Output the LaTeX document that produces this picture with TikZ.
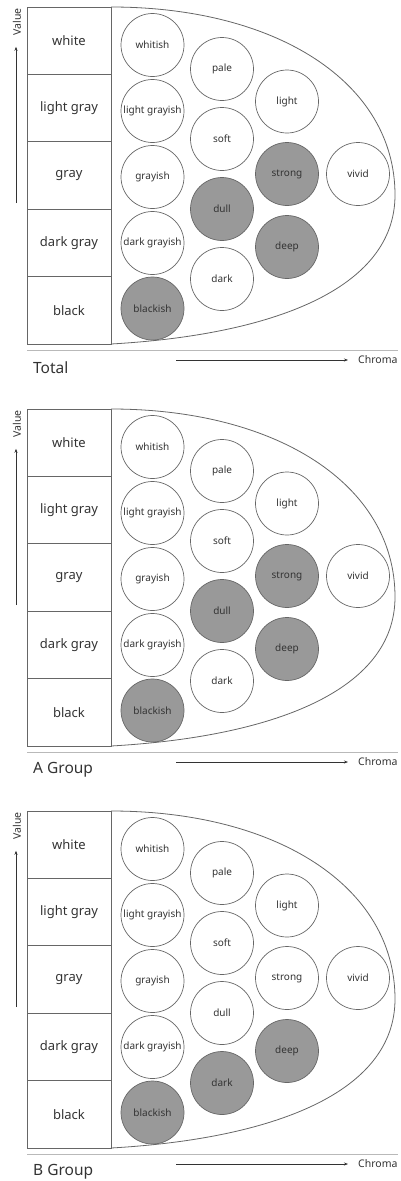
\documentclass[tikz,border=0pt]{standalone}
\usepackage{fontspec}
\setmainfont{Noto Sans}
\usetikzlibrary{arrows.meta, positioning}
\definecolor{shade}{HTML}{999999}
\definecolor{ink}{HTML}{333333}
\definecolor{edge}{HTML}{666666}

\begin{document}
\begin{tikzpicture}[
    x=1pt, y=-1pt,
    font=\fontsize{13}{15}\selectfont,
    text=ink,
    % --- Estilos ---
    level/.style = {draw=edge, line width=0.8pt, minimum width=84pt, minimum height=67.4pt, inner sep=0pt, outer sep=0pt},
    chip/.style = {circle, draw=edge, line width=0.7pt, fill=#1, minimum size=63pt, inner sep=0pt, font=\fontsize{10}{12}\selectfont},
    chip/.default = white,
    hull/.style = {draw=edge, line width=0.8pt},
    rule/.style = {draw=gray!55, line width=1.6pt},
    axis/.style = {inner sep=0pt, font=\fontsize{10.5}{12}\selectfont},
    title/.style = {inner sep=0pt, anchor=west, font=\fontsize{15.5}{18}\selectfont},
    arrow/.style = {line width=0.6pt, draw=ink, -{Stealth[length=4pt, width=3pt]}}
  ]

  \useasboundingbox (0,0) rectangle (401,1181);

  \foreach \p/\dy/\title/\dullfill/\darkfill/\strongfill in {t/0/Total/shade/white/shade, a/402/A Group/shade/white/shade, b/804/B Group/white/shade/white} {
    \begin{scope}[shift={(0,\dy)}]
      % --- Value levels ---
      \node [level] (\p-white) at (69,40.7) {white};
      \node [level, below=0pt of \p-white] (\p-lgray) {light gray};
      \node [level, below=0pt of \p-lgray] (\p-gray) {gray};
      \node [level, below=0pt of \p-gray] (\p-dgray) {dark gray};
      \node [level, below=0pt of \p-dgray] (\p-black) {black};

      % --- Tone envelope ---
      \coordinate (\p-tip) at (395,195);
      \draw [hull] (\p-white.north east) .. controls (276,7) and (395,82) .. (\p-tip)
        .. controls (395,290) and (270,335) .. (\p-black.south east);

      % --- Tones ---
      \node [chip] (\p-whitish) at (152.5,45) {whitish};
      \node [chip] (\p-lgrayish) at (152.5,111) {light grayish};
      \node [chip] (\p-grayish) at (152.5,177) {grayish};
      \node [chip] (\p-dgrayish) at (152.5,243) {dark grayish};
      \node [chip=shade] (\p-blackish) at (152.5,308.5) {blackish};
      \node [chip] (\p-pale) at (222,69) {pale};
      \node [chip] (\p-soft) at (222,139) {soft};
      \node [chip=\dullfill] (\p-dull) at (222,209) {dull};
      \node [chip=\darkfill] (\p-dark) at (222,279) {dark};
      \node [chip] (\p-light) at (287,101.5) {light};
      \node [chip=\strongfill] (\p-strong) at (287,174) {strong};
      \node [chip=shade] (\p-deep) at (287,247) {deep};
      \node [chip] (\p-vivid) at (358,174) {vivid};

      % --- Axes ---
      \coordinate (\p-r0) at (27,350.5);
      \draw [rule] (\p-r0) -- ++(371,0);
      \node [axis, rotate=90] (\p-value) at (17,22) {Value};
      \coordinate (\p-v0) at (16,203);
      \draw [arrow, shorten >=11pt] (\p-v0) -- (\p-v0 |- \p-value.west);
      \node [axis, anchor=west] (\p-chroma) at (358,360) {Chroma};
      \coordinate (\p-c0) at (176,360);
      \draw [arrow, shorten >=10pt] (\p-c0) -- (\p-chroma.west);
      \node [title] (\p-title) at (33,368) {\title};
    \end{scope}
  }

\end{tikzpicture}
\end{document}
